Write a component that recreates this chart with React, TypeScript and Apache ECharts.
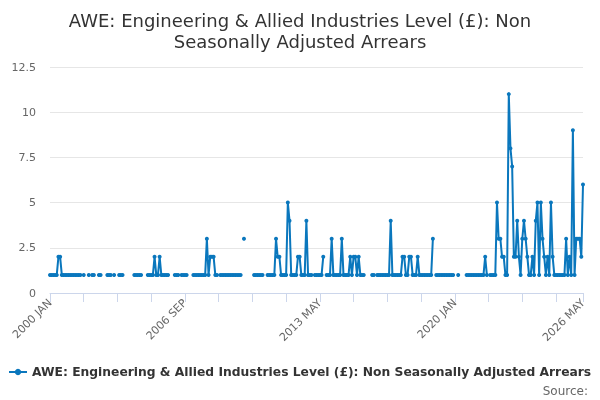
import React, { useEffect, useRef } from "react";
import * as echarts from "echarts";

const _ = null;
const MONTHS = ["JAN", "FEB", "MAR", "APR", "MAY", "JUN", "JUL", "AUG", "SEP", "OCT", "NOV", "DEC"];
const START_YEAR = 2000;
const END_YEAR = 2026;
const END_MONTH = 5; // MAY

const categories: string[] = [];
for (let y = START_YEAR; y <= END_YEAR; y++) {
  for (let m = 0; m < 12; m++) {
    if (y === END_YEAR && m >= END_MONTH) break;
    categories.push(`${y} ${MONTHS[m]}`);
  }
}

const yTicks = [0, 2.5, 5, 7.5, 10, 12.5];

const seriesName = "AWE: Engineering & Allied Industries Level (£): Non Seasonally Adjusted Arrears";

const values: (number | null)[] = [
  1, 1, 1, 1, 1, 2, 2, 1, 1, 1, 1, 1, // 2000
  1, 1, 1, 1, 1, 1, 1, _, 1, _, _, 1, // 2001
  _, 1, 1, _, _, 1, 1, _, _, _, 1, 1, // 2002
  1, _, 1, _, _, 1, 1, 1, _, _, _, _, // 2003
  _, _, 1, 1, 1, 1, 1, _, _, _, 1, 1, // 2004
  1, 1, 2, 1, 1, 2, 1, 1, 1, 1, 1, _, // 2005
  _, _, 1, 1, 1, _, 1, 1, 1, 1, _, _, // 2006
  _, 1, 1, 1, 1, 1, 1, 1, 1, 3, 1, 2, // 2007
  2, 2, 1, 1, _, 1, 1, 1, 1, 1, 1, 1, // 2008
  1, 1, 1, 1, 1, 1, _, 3, _, _, _, _, // 2009
  _, 1, 1, 1, 1, 1, 1, _, _, 1, 1, 1, // 2010
  1, 1, 3, 2, 2, 1, 1, 1, 1, 5, 4, 1, // 2011
  1, 1, 1, 2, 2, 1, 1, 1, 4, 1, 1, 1, // 2012
  _, 1, 1, 1, 1, 1, 2, _, 1, 1, 1, 3, // 2013
  1, 1, 1, 1, 1, 3, 1, 1, 1, 1, 2, 1, // 2014
  2, 2, 1, 2, 1, 1, 1, _, _, _, _, 1, // 2015
  1, _, 1, 1, 1, 1, 1, 1, 1, 1, 4, 1, // 2016
  1, 1, 1, 1, 1, 2, 2, 1, 1, 2, 2, 1, // 2017
  1, 1, 2, 1, 1, 1, 1, 1, 1, 1, 1, 3, // 2018
  _, 1, 1, 1, 1, 1, 1, 1, 1, 1, 1, 1, // 2019
  _, _, 1, _, _, _, _, 1, 1, 1, 1, 1, // 2020
  1, 1, 1, 1, 1, 1, 2, 1, _, 1, 1, 1, // 2021
  1, 5, 3, 3, 2, 2, 1, 1, 11, 8, 7, 2, // 2022
  2, 4, 2, 1, 3, 4, 3, 2, 1, 1, 2, 1, // 2023
  4, 5, 1, 5, 3, 2, 1, 2, 1, 5, 2, 1, // 2024
  1, 1, 1, 1, 1, 1, 3, 1, 2, 1, 9, 1, // 2025
  3, 3, 3, 2, 6, // 2026
];

const FONT = "DejaVu Sans, sans-serif";

export default function App() {
  const ref = useRef<HTMLDivElement>(null);
  useEffect(() => {
    if (!ref.current) return;
    const chart = echarts.init(ref.current, undefined, { renderer: "svg" });
    const last = categories.length - 1;
    chart.setOption({
      animation: false,
      textStyle: { fontFamily: FONT },
      title: {
        text: "AWE: Engineering & Allied Industries Level (£): Non\nSeasonally Adjusted Arrears",
        left: "center",
        top: 5,
        textStyle: { fontSize: 18, fontWeight: "normal", color: "#333333", lineHeight: 21, fontFamily: FONT },
      },
      grid: { left: 50, right: 17, top: 67, bottom: 107, containLabel: false },
      xAxis: {
        type: "category",
        data: categories,
        boundaryGap: false,
        axisLine: { lineStyle: { color: "#ccd6eb" } },
        axisTick: {
          length: 9,
          lineStyle: { color: "#ccd6eb" },
          interval: (i: number) => i % 20 === 0 || i === last,
        },
        axisLabel: {
          rotate: 45,
          color: "#666666",
          fontSize: 11,
          margin: 8,
          interval: (i: number) => i % 80 === 0 || i === last,
        },
        splitLine: { show: false },
      },
      yAxis: {
        type: "value",
        min: yTicks[0],
        max: yTicks[yTicks.length - 1],
        interval: 2.5,
        axisLine: { show: false },
        axisTick: { show: false },
        axisLabel: { color: "#666666", fontSize: 11, margin: 14 },
        splitLine: { lineStyle: { color: "#e6e6e6" } },
      },
      legend: {
        top: 364,
        left: 4,
        itemWidth: 18,
        itemHeight: 8,
        itemGap: 4,
        padding: [2, 4],
        textStyle: { fontSize: 12.3, fontWeight: "bold", color: "#333333", fontFamily: FONT },
        data: [seriesName],
      },
      graphic: [
        {
          type: "text",
          right: 12,
          top: 385,
          style: { text: "Source:", fontSize: 12, fill: "#666666", fontFamily: FONT },
        },
      ],
      series: [
        {
          name: seriesName,
          type: "line",
          data: values,
          connectNulls: false,
          showSymbol: true,
          showAllSymbol: true,
          symbol: "circle",
          symbolSize: 4,
          lineStyle: { width: 2, color: "#0a77bd" },
          itemStyle: { color: "#0a77bd" },
        },
      ],
    });
    return () => chart.dispose();
  }, []);
  return <div ref={ref} style={{ position: "fixed", left: 0, top: 0, width: 600, height: 400 }} />;
}
